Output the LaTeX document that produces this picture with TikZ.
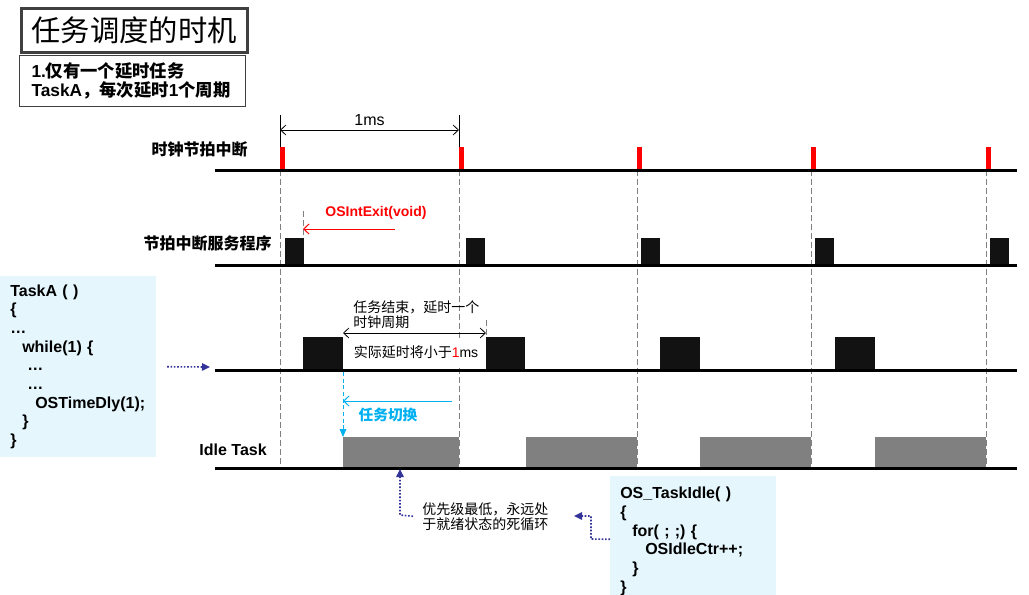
\documentclass[tikz,border=0pt]{standalone}
\usepackage{fontspec}
\setmainfont{Noto Sans CJK SC}
\newfontfamily\arial{Liberation Sans}
\usetikzlibrary{arrows.meta}

\definecolor{tickred}{HTML}{FF0000}
\definecolor{switchcyan}{HTML}{00B0F0}
\definecolor{hintnavy}{HTML}{333399}
\definecolor{idlegray}{HTML}{808080}
\definecolor{codebg}{HTML}{E5F6FD}
\definecolor{boxgray}{HTML}{404040}

\newcommand{\fsz}[2]{\fontsize{#1}{#2}\selectfont}

\begin{document}
\begin{tikzpicture}[x=0.75pt, y=-0.75pt,
  every node/.style={inner sep=0pt},
  track/.style={line width=2.25pt, black},
  guide/.style={gray, line width=0.75pt, dash pattern=on 4.5pt off 2.25pt},
  dim/.style={black, line width=0.6pt, {Straight Barb[length=4pt,width=7.5pt]}-{Straight Barb[length=4pt,width=7.5pt]}},
  back/.style={line width=0.75pt, -{Straight Barb[length=4pt,width=7.5pt]}},
  hint/.style={hintnavy, line width=1.2pt, dash pattern=on 1.2pt off 1.3pt, -{Triangle[length=6pt,width=5.5pt]}},
  codebox/.style={fill=codebg, anchor=north west, align=left, inner xsep=7.5pt, font=\arial\bfseries\fsz{12}{14}},
  rowlabel/.style={anchor=east, font=\bfseries\fsz{12}{14}}]
    \useasboundingbox (0,0) rectangle (1029,594);

    % 标题
    \node[draw=boxgray, line width=2.25pt, anchor=north west, minimum width=169.5pt, minimum height=33pt, font=\fsz{22}{26}] (title) at (19.5,6.5) {任务调度的时机};
    \node[draw=boxgray, line width=0.75pt, anchor=north west, minimum height=38.25pt, text width=151.5pt, inner xsep=9pt, align=left, font=\bfseries\fsz{13}{14.25}] (intro) at (19,55) {{\arial 1.}仅有一个延时任务\\{\arial TaskA}，每次延时{\arial 1}个周期};

    % 行标签
    \node[rowlabel] (clk) at (248,149) {时钟节拍中断};
    \node[rowlabel] (isr) at (272,243) {节拍中断服务程序};
    \node[rowlabel, font=\arial\bfseries\fsz{12}{14}] (idle) at (267,450) {Idle Task};

    % 虚线
    \foreach \t in {280,459,637,811,986}
      \draw[guide] (\t,170) -- (\t,468);
    \draw[guide] (303,211) -- (303,265);
    \draw[guide] (486,320) -- (486,370);

    % 1ms
    \draw[thin] (280,115) -- (280,147);
    \draw[thin] (459,115) -- (459,147);
    \draw[dim] (280,130) -- (459,130) node[midway, above=3pt, font=\arial\fsz{12}{14}] (onems) {1ms};

    % 实际延时
    \node[fill=white, anchor=west, inner xsep=4.5pt, minimum height=22.5pt, font=\fsz{10.5}{12}] (lessnote) at (347.5,352.5) {实际延时将小于{\arial\textcolor{tickred}{1}ms}};

    % 节拍
    \foreach \t in {280,459,637,811,986}
      \fill[tickred] (\t,147) rectangle ++(5,23);
    % 中断服务
    \foreach \a in {285,466,641,815,990}
      \fill[black!93] (\a,238) rectangle ++(19,27);
    % TaskA
    \foreach \a/\b in {303/343,486/525,660/700,835/875}
      \fill[black!93] (\a,337) rectangle (\b,370);
    % Idle
    \foreach \a/\b in {343/459,526/637,700/811,875/986}
      \fill[idlegray] (\a,437) rectangle (\b,468);

    \foreach \y in {170,265,370,468}
      \draw[track] (215,\y) -- (1017,\y);

    % OSIntExit
    \node[font=\arial\bfseries\fsz{10.5}{12}, text=tickred] (exit) at (376,213) {OSIntExit(void)};
    \draw[back, tickred] (395,229) -- (303,229);

    % 延时一个周期
    \node[anchor=west, align=left, font=\fsz{10.5}{11.25}] (delaynote) at (353,314.5) {任务结束，延时一个\\时钟周期};
    \draw[dim] (343,333) -- (486,333);

    % 任务切换
    \draw[switchcyan, line width=0.75pt, dash pattern=on 3pt off 2pt, -{Triangle[length=6pt,width=5pt]}] (343,372) -- (343,437);
    \draw[back, switchcyan] (452,401) -- (343,401);
    \node[font=\bfseries\fsz{11}{12}, text=switchcyan] (switch) at (388,415) {任务切换};

    % 代码
    \node[codebox, minimum height=135.75pt, text width=102pt] (taska) at (0,276) {TaskA ( )\\\{\\…\\\hspace*{9pt}while(1) \{\\\hspace*{12.75pt}…\\\hspace*{12.75pt}…\\\hspace*{18.75pt}OSTimeDly(1);\\\hspace*{9pt}\}\\\}};
    \draw[hint] ([xshift=8pt]taska.east) -- (210,367);

    \node[codebox, minimum height=97.5pt, text width=109.5pt] (idlecode) at (610,476) {OS\_TaskIdle( )\\\{\\\hspace*{9pt}for( ; ;) \{\\\hspace*{18.75pt}OSIdleCtr++;\\\hspace*{9pt}\}\\\}};
    \node[anchor=north west, align=left, font=\fsz{10.5}{11.25}] (idlenote) at (422,502) {优先级最低，永远处\\于就绪状态的死循环};

    \draw[hint] ([yshift=1.5pt]idlecode.west) -- (591,539) -- (591,516) -- (574,516);
    \draw[hint] ([xshift=-6.75pt]idlenote.west) -- (400,515) -- (400,469);
\end{tikzpicture}
\end{document}
